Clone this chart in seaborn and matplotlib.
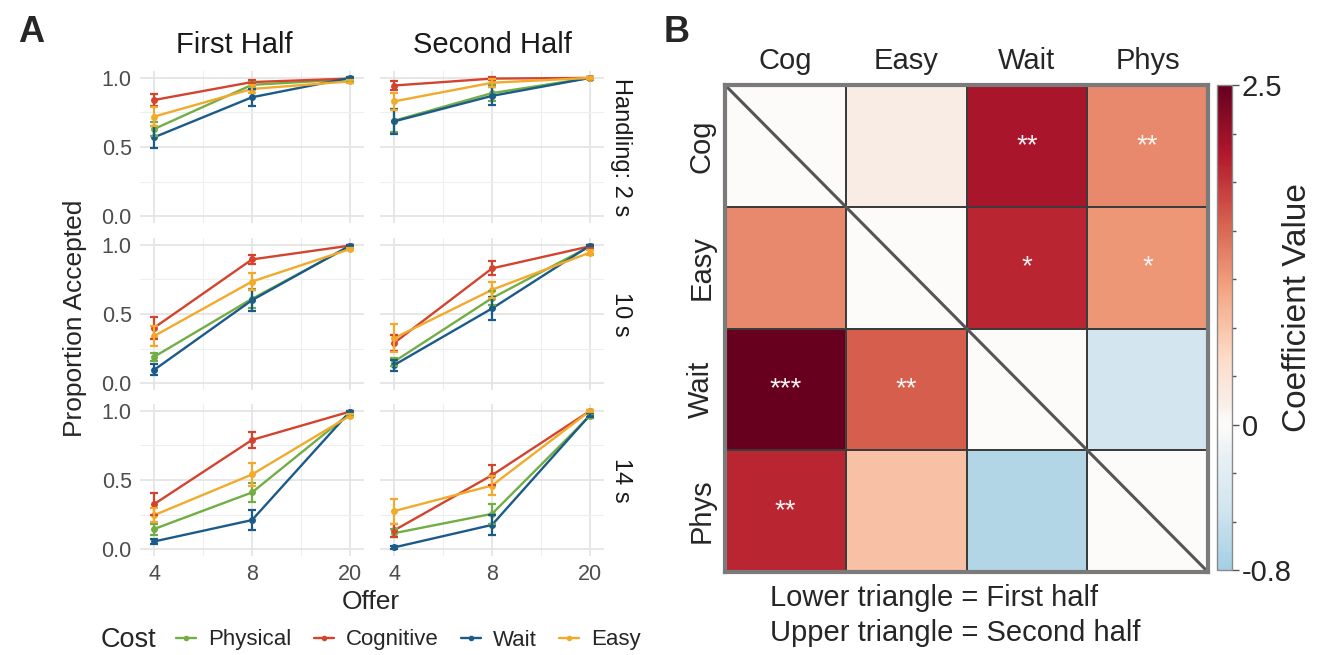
import numpy as np
import pandas as pd
import matplotlib
matplotlib.use("Agg")
import matplotlib.pyplot as plt
import seaborn as sns
from matplotlib.colors import LinearSegmentedColormap, FuncNorm, to_rgba
from matplotlib.lines import Line2D
from matplotlib.ticker import FixedLocator

# ---------------- data: panel A ----------------
offers = [4, 8, 20]
handling_labels = ["Handling: 2 s", "10 s", "14 s"]
halves = ["First Half", "Second Half"]
cost_names = ["Physical", "Cognitive", "Wait", "Easy"]
cost_colors = ["#72ad45", "#d3442e", "#1b5b89", "#f1aa2b"]

# mean proportion accepted; rows = handling (2, 10, 14 s), cols = offer (4, 8, 20)
physical_first = [[0.63, 0.95, 0.99], [0.19, 0.61, 0.99], [0.145, 0.41, 0.983]]
cognitive_first = [[0.84, 0.97, 0.995], [0.40, 0.895, 0.995], [0.325, 0.79, 0.995]]
wait_first = [[0.57, 0.86, 1.0], [0.095, 0.60, 0.995], [0.055, 0.21, 0.995]]
easy_first = [[0.72, 0.92, 0.975], [0.34, 0.735, 0.97], [0.245, 0.54, 0.965]]
physical_second = [[0.69, 0.89, 1.0], [0.155, 0.615, 0.99], [0.115, 0.255, 0.965]]
cognitive_second = [[0.945, 0.995, 1.0], [0.29, 0.83, 0.99], [0.135, 0.535, 1.0]]
wait_second = [[0.685, 0.87, 1.0], [0.13, 0.54, 0.995], [0.012, 0.175, 0.97]]
easy_second = [[0.83, 0.965, 1.0], [0.325, 0.675, 0.945], [0.275, 0.46, 1.0]]

# standard errors (same layout)
physical_first_se = [[0.05, 0.03, 0.01], [0.03, 0.07, 0.01], [0.04, 0.07, 0.01]]
cognitive_first_se = [[0.045, 0.015, 0.005], [0.08, 0.03, 0.005], [0.08, 0.055, 0.005]]
wait_first_se = [[0.08, 0.06, 0.005], [0.04, 0.075, 0.005], [0.02, 0.07, 0.005]]
easy_first_se = [[0.07, 0.03, 0.01], [0.07, 0.06, 0.01], [0.05, 0.08, 0.01]]
physical_second_se = [[0.08, 0.06, 0.005], [0.03, 0.05, 0.01], [0.03, 0.07, 0.015]]
cognitive_second_se = [[0.03, 0.01, 0.005], [0.06, 0.05, 0.01], [0.05, 0.07, 0.005]]
wait_second_se = [[0.09, 0.065, 0.005], [0.04, 0.08, 0.005], [0.01, 0.07, 0.015]]
easy_second_se = [[0.06, 0.03, 0.005], [0.1, 0.06, 0.02], [0.09, 0.07, 0.005]]

# ---------------- data: panel B ----------------
heat_labels = ["Cog", "Easy", "Wait", "Phys"]
# lower triangle (first half), row-major: Easy-Cog, Wait-Cog, Wait-Easy, Phys-Cog, Phys-Easy, Phys-Wait
first_half_coef = [1.2, 2.5, 1.5, 1.9, 0.75, -0.7]
first_half_sig = ["", "***", "**", "**", "", ""]
# upper triangle (second half), row-major: Cog-Easy, Cog-Wait, Cog-Phys, Easy-Wait, Easy-Phys, Wait-Phys
second_half_coef = [0.18, 2.05, 1.2, 1.9, 1.1, -0.45]
second_half_sig = ["", "**", "**", "*", "*", ""]
cbar_min, cbar_max = -0.8, 2.5

# ---------------- build long table ----------------
means = {
    ("First Half", "Physical"): physical_first, ("First Half", "Cognitive"): cognitive_first,
    ("First Half", "Wait"): wait_first, ("First Half", "Easy"): easy_first,
    ("Second Half", "Physical"): physical_second, ("Second Half", "Cognitive"): cognitive_second,
    ("Second Half", "Wait"): wait_second, ("Second Half", "Easy"): easy_second,
}
ses = {
    ("First Half", "Physical"): physical_first_se, ("First Half", "Cognitive"): cognitive_first_se,
    ("First Half", "Wait"): wait_first_se, ("First Half", "Easy"): easy_first_se,
    ("Second Half", "Physical"): physical_second_se, ("Second Half", "Cognitive"): cognitive_second_se,
    ("Second Half", "Wait"): wait_second_se, ("Second Half", "Easy"): easy_second_se,
}
rows = []
for half in halves:
    for cost in cost_names:
        for hi, hl in enumerate(handling_labels):
            for oi, off in enumerate(offers):
                rows.append(dict(Half=half, Cost=cost, Handling=hl, Offer=off, pos=oi,
                                 prop=means[(half, cost)][hi][oi], se=ses[(half, cost)][hi][oi]))
df = pd.DataFrame(rows)

# ---------------- style ----------------
sns.set_style("white")
plt.rcParams["font.family"] = ["Liberation Sans", "DejaVu Sans"]

W, H = 1322, 655
fig = plt.figure(figsize=(W / 100, H / 100), dpi=100)

def fx(px):
    return px / W

def fy(py):
    return 1 - py / H

palette = dict(zip(cost_names, cost_colors))
col_left = [140, 380]
panel_w = 224
row_top = [71, 238, 404]
panel_h = 152

for ci, half in enumerate(halves):
    for ri, hl in enumerate(handling_labels):
        ax = fig.add_axes([fx(col_left[ci]), fy(row_top[ri] + panel_h), panel_w / W, panel_h / H])
        sub = df[(df.Half == half) & (df.Handling == hl)]
        sns.lineplot(data=sub, x="pos", y="prop", hue="Cost", hue_order=cost_names,
                     palette=palette, marker="o", markersize=5, markeredgewidth=0,
                     linewidth=1.7, legend=False, ax=ax)
        for cost in cost_names:
            s = sub[sub.Cost == cost]
            ax.errorbar(s.pos, s.prop, yerr=s.se, fmt="none", ecolor=palette[cost],
                        elinewidth=1.6, capsize=3.2, capthick=1.6)
        ax.set_xlim(-0.143, len(offers) - 1 + 0.143)
        ax.set_ylim(-0.05, 1.05)
        ax.set_xticks(range(len(offers)))
        ax.set_xticks([i + 0.5 for i in range(len(offers) - 1)], minor=True)
        ax.set_yticks([0, 0.5, 1.0])
        ax.set_yticks([0.25, 0.75], minor=True)
        ax.grid(which="major", color="#e3e3e3", linewidth=1.2)
        ax.grid(which="minor", color="#eeeeee", linewidth=0.8)
        ax.set_axisbelow(True)
        for sp in ax.spines.values():
            sp.set_visible(False)
        ax.tick_params(which="both", length=0, labelsize=15.5, labelcolor="#4d4d4d", pad=6)
        ax.set_xlabel("")
        ax.set_ylabel("")
        if ri == len(handling_labels) - 1:
            ax.set_xticklabels([str(o) for o in offers])
        else:
            ax.set_xticklabels([])
        if ci == 0:
            ax.set_yticklabels(["0.0", "0.5", "1.0"])
        else:
            ax.set_yticklabels([])
            ax.text(1.075, 0.5, hl, transform=ax.transAxes, rotation=-90,
                    ha="center", va="center", fontsize=17, color="#1a1a1a")

fig.text(fx(234), fy(45), halves[0], ha="center", va="center", fontsize=21, color="#1a1a1a")
fig.text(fx(492), fy(45), halves[1], ha="center", va="center", fontsize=21, color="#1a1a1a")
fig.text(fx(75), fy(318), "Proportion Accepted", rotation=90, ha="center", va="center", fontsize=19)
fig.text(fx(371), fy(602), "Offer", ha="center", va="center", fontsize=19)
fig.text(fx(101), fy(640), "Cost", ha="left", va="center", fontsize=19.5)
handles = [Line2D([0], [0], color=c, lw=1.7, marker="o", markersize=4, markeredgewidth=0)
           for c in cost_colors]
fig.legend(handles, cost_names, loc="center left", bbox_to_anchor=(fx(176), fy(640)),
           ncol=4, frameon=False, fontsize=16, handlelength=0.9, handletextpad=0.55,
           columnspacing=1.0, borderpad=0, borderaxespad=0)

fig.text(fx(18), fy(32), "A", fontsize=26, fontweight="bold", ha="left", va="center")
fig.text(fx(664), fy(32), "B", fontsize=26, fontweight="bold", ha="left", va="center")

# ---------------- panel B: heatmap ----------------
n = len(heat_labels)
mat = np.zeros((n, n))
annot = np.full((n, n), "", dtype=object)
li = np.tril_indices(n, -1)
ui = np.triu_indices(n, 1)
mat[li] = first_half_coef
mat[ui] = second_half_coef
annot[li] = first_half_sig
annot[ui] = second_half_sig
mat_df = pd.DataFrame(mat, index=heat_labels, columns=heat_labels)

frac0 = 0.30  # position of 0 on the colour bar
base = plt.get_cmap("RdBu_r")
mid_col = np.array(to_rgba("#fcfbf9"))

def shade(t):
    c = np.array(base(t))
    # blend the neutral centre toward a warm white
    w = max(0.0, 1 - abs(t - 0.5) / 0.025)
    return tuple(c * (1 - w) + mid_col * w)

lo = np.linspace(0, frac0, 40)
hi = np.linspace(frac0, 1, 100)[1:]
stops = [(p, shade(0.33 + (0.5 - 0.33) * p / frac0)) for p in lo] + \
        [(p, shade(0.5 + 0.5 * (p - frac0) / (1 - frac0))) for p in hi]
cmap = LinearSegmentedColormap.from_list("coef", stops, N=512)

def fwd(v):
    v = np.asarray(v, dtype=float)
    return np.where(v < 0, v * frac0 / (-cbar_min), v * (1 - frac0) / cbar_max)

def inv(x):
    x = np.asarray(x, dtype=float)
    return np.where(x < 0, x * (-cbar_min) / frac0, x * cbar_max / (1 - frac0))

norm = FuncNorm((fwd, inv), vmin=cbar_min, vmax=cbar_max)

hax = fig.add_axes([fx(725), fy(572), 483 / W, 487 / H])
cax = fig.add_axes([fx(1217), fy(570), 15 / W, 485 / H])
sns.heatmap(mat_df, ax=hax, cbar_ax=cax, cmap=cmap, norm=norm, annot=annot, fmt="",
            annot_kws=dict(color="#f8f4f4", fontsize=20),
            linewidths=1.1, linecolor="#3c3c3c")
hax.plot([0, n], [0, n], color="#555555", lw=2.2)
hax.xaxis.tick_top()
hax.set_xticklabels(heat_labels, rotation=0, fontsize=21)
hax.set_yticklabels(heat_labels, rotation=90, va="center", fontsize=21)
hax.tick_params(length=0, pad=7)
for sp in hax.spines.values():
    sp.set_visible(True)
    sp.set_color("#7a7a7a")
    sp.set_linewidth(3)

cb = hax.collections[0].colorbar
cb.outline.set_linewidth(1.0)
cb.outline.set_edgecolor("#8a8a8a")
cb.set_ticks([cbar_min, 0, cbar_max], labels=["-0.8", "0", "2.5"])
cax.yaxis.set_minor_locator(FixedLocator(list(np.linspace(0, cbar_max, 8)[1:-1]) +
                                         list(np.linspace(cbar_min, 0, 4)[1:-1])))
cax.tick_params(which="major", length=5, width=1, color="#555555", labelsize=21, pad=2)
cax.tick_params(which="minor", length=3, width=1, color="#555555")
fig.text(fx(1297), fy(308), "Coefficient Value", rotation=90, ha="center", va="center", fontsize=24)

fig.text(fx(770), fy(598), "Lower triangle = First half", ha="left", va="center", fontsize=21)
fig.text(fx(770), fy(633), "Upper triangle = Second half", ha="left", va="center", fontsize=21)

fig.savefig("out.png", dpi=100)
